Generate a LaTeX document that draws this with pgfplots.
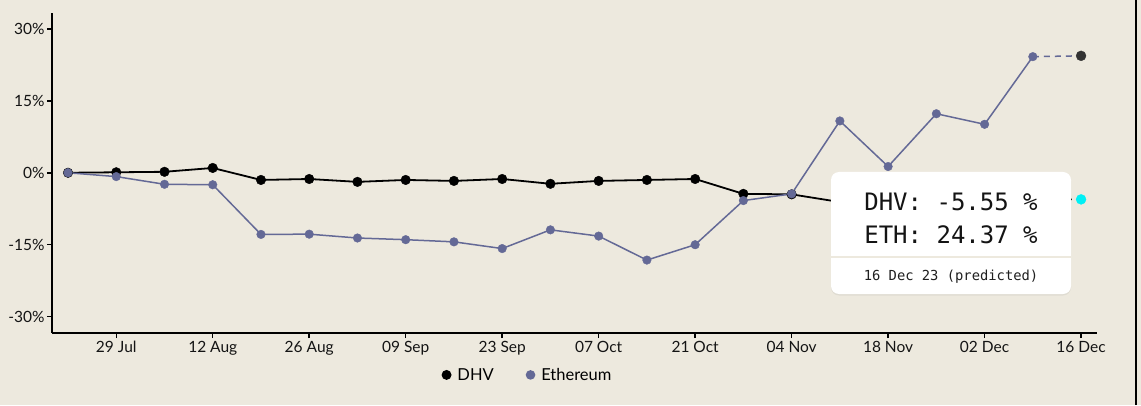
\documentclass[border=0pt]{standalone}
\usepackage{fontspec}
\setmainfont{Lato}
\newfontfamily\monofont{DejaVu Sans Mono}
\usepackage{pgfplots}
\pgfplotsset{compat=1.18}
\usetikzlibrary{shadows}
\definecolor{bg}{RGB}{237,233,222}
\definecolor{eth}{RGB}{100,105,150}
\definecolor{pred}{RGB}{51,51,51}
\definecolor{cyanpt}{RGB}{0,240,245}
\begin{document}
\begin{tikzpicture}
\fill[bg] (0,0) rectangle (1141pt,405pt);
\begin{axis}[
  at={(52pt,72pt)}, anchor=south west,
  scale only axis, width=1045pt, height=320pt,
  xmin=-0.332, xmax=21.33, ymin=-33.4, ymax=33.3,
  axis x line*=bottom, axis y line*=left,
  axis line style={-, line width=1.8pt, black},
  xtick={1,3,...,21},
  xticklabels={29 Jul,12 Aug,26 Aug,09 Sep,23 Sep,07 Oct,21 Oct,04 Nov,18 Nov,02 Dec,16 Dec},
  ytick={-30,-15,0,15,30},
  yticklabels={-30\%,-15\%,0\%,15\%,30\%},
  tick align=outside, major tick length=5pt,
  tick style={line width=1.5pt, black},
  tick label style={font=\fontsize{15.5}{18}\selectfont, text=black!92},
  yticklabel style={xshift=1pt},
  clip=false,
  legend style={at={(0.366,-0.131)}, anchor=west, draw=none, fill=none,
    legend columns=2, font=\fontsize{16.5}{19}\selectfont,
    /tikz/every even column/.append style={column sep=26pt}},
  legend image code/.code={\path (-4pt,0pt) (12pt,0pt); \fill[#1] (4pt,0pt) circle (4pt);},
]
\addplot[black, line width=1.8pt, mark=*, mark size=4.8pt, mark options={solid, line width=0.4pt}]
  coordinates {(0,0)(1,0.1)(2,0.2)(3,1.0)(4,-1.5)(5,-1.3)(6,-1.9)(7,-1.5)(8,-1.7)(9,-1.3)(10,-2.3)(11,-1.7)(12,-1.5)(13,-1.3)(14,-4.4)(15,-4.5)(16,-6.1)(17,-6.3)(18,-6.0)(19,-5.8)(20,-5.6)};
\addlegendentry{DHV}
\addplot[black, line width=1.5pt, dash pattern=on 6pt off 5pt, forget plot]
  coordinates {(20,-5.6)(21,-5.55)};
\addplot[only marks, mark=*, mark size=5pt, cyanpt, mark options={line width=0.3pt}, forget plot]
  coordinates {(21,-5.55)};
\addplot[eth, line width=1.5pt, mark=*, mark size=4.3pt, mark options={solid, line width=0.4pt}]
  coordinates {(0,0)(1,-0.8)(2,-2.4)(3,-2.5)(4,-12.85)(5,-12.8)(6,-13.6)(7,-13.95)(8,-14.4)(9,-15.8)(10,-11.9)(11,-13.2)(12,-18.2)(13,-15.0)(14,-5.8)(15,-4.4)(16,10.8)(17,1.3)(18,12.3)(19,10.1)(20,24.2)};
\addlegendentry{Ethereum}
\addplot[eth, line width=1.5pt, dash pattern=on 6pt off 5pt, forget plot]
  coordinates {(20,24.2)(21,24.37)};
\addplot[only marks, mark=*, mark size=5pt, pred, mark options={line width=0.3pt}, forget plot]
  coordinates {(21,24.37)};
\end{axis}
% tooltip
\fill[white, rounded corners=8pt, drop shadow={opacity=0.12, shadow xshift=0pt, shadow yshift=-1.5pt}] (831pt,111pt) rectangle (1071pt,233pt);
\draw[bg, line width=2pt] (831pt,148.3pt) -- (1071pt,148.3pt);
\node[anchor=base, inner sep=0pt, text=black!92] at (951pt,195pt) {\monofont\fontsize{24}{28}\selectfont DHV: -5.55 \%};
\node[anchor=base, inner sep=0pt, text=black!92] at (951pt,162pt) {\monofont\fontsize{24}{28}\selectfont ETH: 24.37 \%};
\node[anchor=base, inner sep=0pt, text=black!88] at (951pt,124.3pt) {\monofont\fontsize{13.8}{16}\selectfont 16 Dec 23 (predicted)};
\draw[black, line width=2pt] (1135.7pt,0pt) -- (1135.7pt,405pt);
\pgfresetboundingbox
\path (0,0) rectangle (1141pt,405pt);
\end{tikzpicture}
\end{document}
